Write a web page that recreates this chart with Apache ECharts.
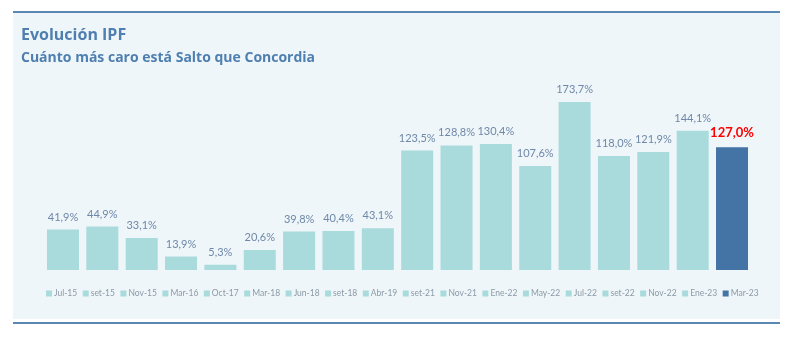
<!DOCTYPE html>
<html>
<head>
<meta charset="utf-8">
<script src="https://cdn.jsdelivr.net/npm/echarts@6/dist/echarts.min.js"></script>
<style>
html,body{margin:0;padding:0;background:#ffffff;}
#c{width:800px;height:351px;}
</style>
</head>
<body>
<div id="c"></div>
<script>
var categories = ['Jul-15','set-15','Nov-15','Mar-16','Oct-17','Mar-18','Jun-18','set-18','Abr-19','set-21','Nov-21','Ene-22','May-22','Jul-22','set-22','Nov-22','Ene-23','Mar-23'];
var values = [41.9,44.9,33.1,13.9,5.3,20.6,39.8,40.4,43.1,123.5,128.8,130.4,107.6,173.7,118.0,121.9,144.1,127.0];
var titleText = 'Evolución IPF';
var subtitleText = 'Cuánto más caro está Salto que Concordia';

var lightColor = '#a9dadc';
var darkColor = '#4473a5';
var fontFam = 'Lato, "Noto Sans", sans-serif';
var titleFam = '"Open Sans", Lato, sans-serif';

function fmt(v){ return v.toFixed(1).replace('.', ',') + '%'; }

var series = categories.map(function(name, i){
  var last = i === categories.length - 1;
  var data = categories.map(function(_, j){ return j === i ? values[i] : '-'; });
  return {
    name: name,
    type: 'bar',
    stack: 'all',
    barWidth: 32,
    data: data,
    itemStyle: { color: last ? darkColor : lightColor },
    label: {
      show: true,
      position: 'top',
      distance: last ? 8 : 7,
      formatter: function(p){ return fmt(p.value); },
      color: last ? '#ff0000' : '#6f87a8',
      fontSize: last ? 13 : 11,
      fontWeight: last ? 'bold' : 'normal',
      fontFamily: fontFam
    }
  };
});

var chart = echarts.init(document.getElementById('c'), null, {renderer:'canvas'});
chart.setOption({
  backgroundColor: '#ffffff',
  animation: false,
  graphic: [
    { type:'rect', z:-10, shape:{x:13,y:13,width:767,height:306}, style:{fill:'#eef6f9'} },
    { type:'rect', z:-5, shape:{x:13,y:11,width:767,height:2}, style:{fill:'#5b87b5'} },
    { type:'rect', z:-5, shape:{x:13,y:322,width:767,height:2}, style:{fill:'#5b87b5'} },
    { type:'text', left:21, top:27, style:{text:titleText, fill:'#4f7fb0', font:'bold 16px ' + titleFam} },
    { type:'text', left:21, top:51, style:{text:subtitleText, fill:'#4f7fb0', font:'bold 14px ' + titleFam} }
  ],
  legend: {
    data: categories,
    left: 41,
    top: 284,
    width: 750,
    itemWidth: 6,
    itemHeight: 6,
    itemGap: 5.5,
    icon: 'rect',
    textStyle: { color:'#8c9aa6', fontSize: 8.5, fontFamily: fontFam, padding:[0,0,0,-3] }
  },
  grid: { left: 43.3, right: 48.3, top: 76.6, bottom: 81 },
  xAxis: {
    type: 'category',
    data: categories,
    axisLine: { show:false },
    axisTick: { show:false },
    axisLabel: { show:false }
  },
  yAxis: {
    type: 'value',
    min: 0,
    max: 200,
    show: false,
    splitLine: { show:false }
  },
  series: series
});
</script>
</body>
</html>
